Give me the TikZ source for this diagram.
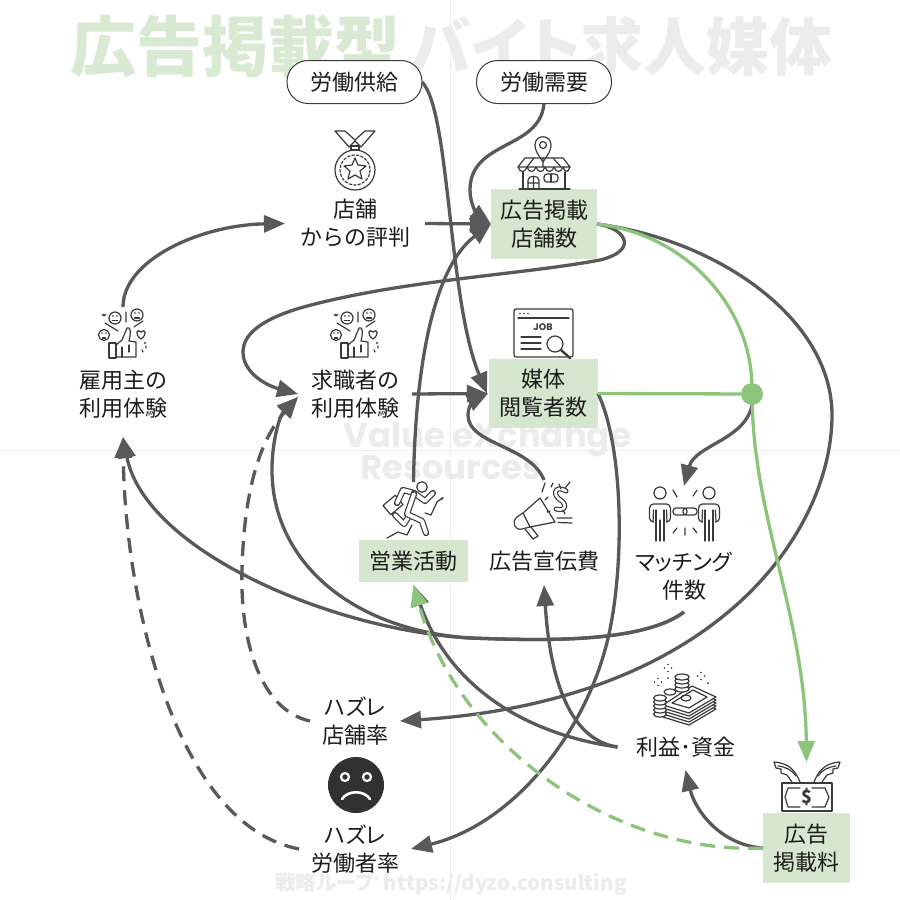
\documentclass[tikz,border=0pt]{standalone}
\usepackage{fontspec}
\setmainfont{Noto Sans CJK JP}
\newfontfamily\paltfont[RawFeature=+palt]{Noto Sans CJK JP}
\newfontfamily\latinbold[BoldFont=Poppins Bold]{Poppins}
\usetikzlibrary{arrows.meta,shapes.geometric}
\definecolor{linegray}{HTML}{595959}
\definecolor{icongray}{HTML}{3A3A3A}
\definecolor{boxgreen}{HTML}{D5E8CF}
\definecolor{linegreen}{HTML}{8DC47B}
\definecolor{titlegreen}{HTML}{D9EAD3}
\definecolor{titlegray}{HTML}{ECECEC}
\definecolor{markgray}{HTML}{EEEEEE}
\definecolor{textdark}{HTML}{1C1C1C}
\tikzset{
  x=1pt,y=-1pt,
  lab/.style={font=\fontsize{22}{28}\selectfont,text=textdark,align=center,inner sep=0pt,outer sep=0pt},
  greenbox/.style={lab,fill=boxgreen},
  pill/.style={lab,draw=icongray,line width=1pt,fill=white,rounded corners=21pt,minimum width=135pt,minimum height=43pt},
  tipshape/.style={-{Triangle[length=21pt,width=17pt]}},
  conn/.style={draw=linegray,line width=3.3pt,tipshape},
  dashconn/.style={conn,dash pattern=on 15pt off 9pt},
  gconn/.style={draw=linegreen,line width=3.3pt},
  icon/.style={draw=icongray,line width=1.2pt,line join=round,line cap=round},
  limb/.style={draw=icongray,line width=1.2pt,double=white,double distance=3.8pt,line cap=round,line join=round},
  thumbs/.pic={
    \begin{scope}[icon]
      \draw (115,318) circle (6);
      \draw (137,315) circle (6);
      \draw (104,335) circle (5.5);
      \fill[icongray] (113,316) circle (.8) (117,316) circle (.8) (135,313) circle (.8) (139,313) circle (.8) (102,333) circle (.8) (106,333) circle (.8);
      \draw (112.5,320.5) -- (117.5,320.5) (134.5,318) -- (139.5,318) (102.5,338) -- (105.5,338);
      \draw (126,312) -- (126,322) (105,323) -- (118,331) (134,327) -- (143,321);
      \draw (109,343) rectangle (116,358);
      \draw (116,345) -- (122,340) -- (127,328) .. controls (131,326) and (131,333) .. (129,341) -- (136,342) -- (136,357) -- (116,357);
      \draw (122,357) -- (122,347) (129,345) -- (129,352);
      \draw (141,332) .. controls (137,328) and (134,334) .. (141,339) .. controls (148,334) and (145,328) .. (141,332);
      \draw (104,314) -- (104,316) (102,315) -- (106,315) (146,346) -- (146,348) (142,350) -- (143,352);
      \fill[icongray] (145,343) circle (1.2);
    \end{scope}
  },
  sparkle/.pic={
    \fill[icongray] (0,-3.5) circle (.8) (0,3.5) circle (.8) (-3.5,0) circle (.8) (3.5,0) circle (.8);
  },
}
\begin{document}
\begin{tikzpicture}
\useasboundingbox (0,0) rectangle (900,900);
\fill[white] (0,0) rectangle (900,900);
% background grid and watermarks
\draw[markgray,line width=1pt] (450,0) -- (450,900) (0,450) -- (900,450);
\node[anchor=base west,inner sep=0pt,font=\fontsize{66}{70}\selectfont\bfseries,text=titlegreen] (titleA) at (70,71) {広告掲載型};
\node[anchor=base west,inner sep=0pt,font=\paltfont\fontsize{63}{70}\selectfont\bfseries,text=titlegray] (titleB) at (409,70) {バイト求人媒体};
\node[anchor=base west,inner sep=0pt,font=\latinbold\fontsize{34}{38}\selectfont\bfseries,text=titlegray] (markA) at (343,447) {Value eXchange};
\node[anchor=base west,inner sep=0pt,font=\latinbold\fontsize{34}{38}\selectfont\bfseries,text=titlegray] (markB) at (360,479) {Resources};
\node[anchor=base,inner sep=0pt,font=\paltfont\fontsize{20.5}{24}\selectfont\bfseries,text=titlegray] (markC) at (451,890) {戦略ループ{\fontsize{10}{10}\selectfont\raisebox{6pt}{®}} https://dyzo.consulting};

% nodes
\node[pill] (supply) at (354.5,82) {労働供給};
\node[pill] (demand) at (544,82) {労働需要};
\node[lab,minimum width=140pt,minimum height=60pt] (rep) at (355,223.5) {店舗\\からの評判};
\node[greenbox,minimum width=106pt,minimum height=70pt] (stores) at (544,224) {広告掲載\\店舗数};
\node[greenbox,minimum width=109pt,minimum height=69pt] (media) at (543.5,393.5) {媒体\\閲覧者数};
\node[lab,minimum width=90pt,minimum height=86pt] (emp) at (123,394) {雇用主の\\利用体験};
\node[lab,minimum width=114pt,minimum height=60pt] (seek) at (355,394) {求職者の\\利用体験};
\node[greenbox,minimum width=109pt,minimum height=42pt] (sales) at (413.5,561) {営業活動};
\node[lab,minimum width=109pt,minimum height=42pt] (adv) at (544,561) {広告宣伝費};
\node[lab,minimum width=100pt,minimum height=62pt] (match) at (684,576) {{\paltfont マッチング}\\件数};
\node[lab,minimum width=136pt,minimum height=46pt] (profit) at (685.5,747) {利益･資金};
\node[lab,minimum width=90pt,minimum height=60pt] (shop) at (355,721) {{\paltfont ハズレ}\\店舗率};
\node[lab,minimum width=112pt,minimum height=60pt] (labor) at (355,849) {{\paltfont ハズレ}\\労働者率};
\node[greenbox,minimum width=87pt,minimum height=70pt] (fee) at (806.5,848) {広告\\掲載料};
\node[circle,fill=linegreen,inner sep=0pt,minimum size=22pt] (hub) at (752,394) {};

% gray connectors
\draw[conn] (supply.east) .. controls (450,110) and (448,300) .. ([xshift=-2pt]media.west);
\draw[conn] (demand.south) .. controls (540,150) and (470,140) .. (470,190) .. controls (470,205) and (478,215) .. (stores.west);
\draw[conn] (rep.east) -- (stores.west);
\draw[conn] ([yshift=58pt]sales.north) .. controls (415,380) and (430,270) .. (stores.west);
\draw[conn] ([yshift=44pt]emp.north) .. controls (123,260) and (200,225) .. (rep.west);
\draw[conn] (stores.east) .. controls (625,228) and (640,250) .. (600,260) .. controls (520,275) and (400,280) .. (300,308) .. controls (260,320) and (243,335) .. (243,352) .. controls (243,372) and (265,385) .. (seek.west);
\draw[conn] (seek.east) -- ([xshift=-1pt]media.west);
\draw[conn] ([yshift=60pt]adv.north) .. controls (530,445) and (468,445) .. (468,415) .. controls (468,405) and (475,400) .. ([xshift=-1pt]media.west);
\draw[conn] (hub.south) .. controls (745,440) and (695,445) .. ([yshift=59pt]match.north);
\draw[conn] (media.east) .. controls (625,450) and (625,580) .. (605,650) .. controls (580,740) and (510,825) .. (labor.east);
\draw[conn] (stores.east) .. controls (720,240) and (832,320) .. (832,415) .. controls (832,530) and (720,700) .. (shop.east);
\draw[conn] ([yshift=-5pt]match.south) .. controls (640,645) and (530,640) .. (470,638) .. controls (330,630) and (145,550) .. (emp.south);
\draw[conn] ([yshift=-5pt]match.south) .. controls (640,645) and (530,640) .. (470,638) .. controls (350,630) and (272,560) .. (272,470) .. controls (272,440) and (280,415) .. ([yshift=-3pt]seek.west);
\draw[conn] (profit.west) .. controls (530,735) and (450,690) .. ([yshift=-3pt]sales.south);
\draw[conn] (profit.west) .. controls (570,740) and (550,680) .. ([yshift=-3pt]adv.south);
\draw[conn] (fee.west) .. controls (720,845) and (695,810) .. (profit.south);
\draw[dashconn] (shop.west) .. controls (260,710) and (240,640) .. (242,570) .. controls (244,490) and (260,440) .. ([yshift=-3pt]seek.west);
\draw[dashconn] (labor.west) .. controls (175,825) and (125,600) .. (emp.south);

% green connectors
\draw[gconn] (media.east) -- (hub);
\draw[gconn] (stores.east) .. controls (690,235) and (750,310) .. (hub);
\draw[gconn,tipshape] (hub) .. controls (755,520) and (805,620) .. ([yshift=51pt]fee.north);
\draw[gconn,dash pattern=on 15pt off 9pt,tipshape] (fee.west) .. controls (620,855) and (460,750) .. ([yshift=-3pt]sales.south);

% icons
\begin{scope}[icon]
  % medal
  \draw (335,131) -- (345,131) -- (355,140) -- (365,131) -- (375,131) -- (361,147) -- (355,141) -- (349,147) -- cycle;
  \draw (351,146) rectangle (359,150);
  \draw (355,170) circle (20);
  \draw[dash pattern=on 2.5pt off 2pt] (355,170) circle (15);
  \draw (355,158) -- (358,165) -- (366,166) -- (360,171) -- (362,179) -- (355,175) -- (348,179) -- (350,171) -- (344,166) -- (352,165) -- cycle;
  % store
  \draw (543,162) .. controls (537,153) and (535,150) .. (535,145) .. controls (535,134) and (551,134) .. (551,145) .. controls (551,150) and (549,153) .. (543,162) -- cycle;
  \draw (543,145) circle (3.5);
  \draw (525,158) -- (563,158) -- (570,167) -- (518,167) -- cycle;
  \draw (518,167) .. controls (520,173) and (525,173) .. (527,167) .. controls (529,173) and (534,173) .. (536,167) .. controls (538,173) and (543,173) .. (545,167) .. controls (547,173) and (552,173) .. (554,167) .. controls (556,173) and (561,173) .. (563,167) .. controls (565,173) and (568,173) .. (570,167);
  \draw (534,158) -- (527,167) (543,158) -- (543,167) (553,158) -- (561,167);
  \draw (523,172) -- (523,189) (565,172) -- (565,189) (519,189) -- (570,189);
  \draw (528,189) -- (528,180) .. controls (528,175) and (539,175) .. (539,180) -- (539,189) (528,183) -- (539,183) (533.5,177) -- (533.5,189);
  \draw[rounded corners=3pt] (544,174) rectangle (558,182);
  \draw (551,174) -- (551,182);
  % job window
  \draw[rounded corners=2pt] (514,309) rectangle (573,357);
  \draw (518,318) -- (569,318);
  \fill[icongray] (520,313.5) circle (.9) (524,313.5) circle (.9) (528,313.5) circle (.9);
  \draw (521,337) -- (541,337) (521,343) -- (541,343) (521,349) -- (541,349);
  \draw[fill=white] (555,344) circle (8);
  \draw[line width=2.4pt] (561,350) -- (570,358);
  % runner
  \draw (422,487) circle (5.3);
  \draw[rotate around={40:(393,505)},fill=white] (385,499) rectangle (401,511);
  \draw[limb] (409,516) -- (404,524) -- (395,515);
  \draw[limb] (414,493) -- (403,490) -- (397,503);
  \draw[limb] (414,493) -- (425,501) -- (433,493);
  \draw[limb] (414,494) -- (407,514) -- (422,521) -- (426,533);
  \draw (387,538) -- (398,532) -- (407,535) -- (412,525);
  \draw[-{Stealth[length=4pt]}] (425,513) -- (431,515) -- (437,502) -- (444,497);
  % megaphone
  \draw (540,498) -- (555,522) -- (530,527) -- (523,513) -- cycle;
  \draw (523,513) -- (517,517) .. controls (511,522) and (515,531) .. (522,529) -- (530,527);
  \draw (525,529) -- (533,539) -- (538,536) -- (531,527);
  \draw (545,483) -- (542,492) (553,483) -- (551,487) (570,482) -- (565,488) (548,497) -- (545,500) (550,511) -- (547,512) (557,518) -- (572,518) (558,522.5) -- (572,523);
  \draw[limb,double distance=2.6pt] (566,491) .. controls (556,485) and (552,493) .. (559,499) .. controls (567,503) and (567,512) .. (556,509);
  \draw (559,484) -- (561,489) (563,510) -- (565,514);
  % people
  \foreach \px in {660,709}{
    \draw (\px,493) circle (6);
    \draw[rounded corners=4pt] (\px-7,522) -- (\px-10.5,522) -- (\px-10.5,504) -- (\px+10.5,504) -- (\px+10.5,522) -- (\px+7,522);
    \draw (\px-7,522) -- (\px-6.5,510) (\px+7,522) -- (\px+6.5,510);
    \draw (\px-4,510) -- (\px-4,541) (\px,520) -- (\px,541) (\px+4,510) -- (\px+4,541);
  }
  \draw[rounded corners=3pt] (673,508) rectangle (687,515) (683,508) rectangle (697,515);
  \draw (685,528) -- (685,535) (673,490) -- (677,497) (697,490) -- (693,496) (673,533) -- (677,528) (697,533) -- (693,528);
  % money
  \foreach \sy in {12,9,6,3,0}{
    \draw[fill=white] (663,705+\sy) -- (692,686+\sy) -- (716,697+\sy) -- (689,713+\sy) -- cycle;
  }
  \draw (672,703) -- (693,690) -- (707,697) -- (689,708) -- cycle;
  \draw (686,698) ellipse (5 and 3);
  \foreach \cy in {689,685,681}{ \draw[fill=white] (682,\cy) ellipse (7 and 3); }
  \draw[fill=white] (682,677) ellipse (7 and 3);
  \draw[fill=white] (670,692) ellipse (6 and 3);
  \foreach \cy in {714,710,706,702}{ \draw[fill=white] (660,\cy) ellipse (6.5 and 3); }
  \draw[fill=white] (660,698) ellipse (6.5 and 3);
  % winged money
  \draw (782,783) rectangle (832,811);
  \draw (800,788) -- (788,788) -- (785,797) -- (788,807) -- (800,807) (812,788) -- (825,788) -- (829,797) -- (825,807) -- (812,807);
  \draw (800,782) .. controls (796,772) and (790,763) .. (774,762) -- (776,768) -- (781,769) -- (781,773) -- (787,775) -- (792,782);
  \draw (814,782) .. controls (818,772) and (824,763) .. (840,762) -- (838,768) -- (833,769) -- (833,773) -- (827,775) -- (822,782);
  \draw (778,766) .. controls (786,767) and (792,770) .. (796,776) (836,766) .. controls (828,767) and (822,770) .. (818,776);
\end{scope}
\pic at (668,668) {sparkle};
\pic at (658,682) {sparkle};
\pic at (701,676) {sparkle};
\fill[icongray] (708,683) circle (1) (668,678) circle (1);
\node[inner sep=0pt,font=\fontsize{18}{20}\selectfont\bfseries,text=icongray] (dollar) at (807,797) {\$};
\node[inner sep=0pt,font=\latinbold\fontsize{9.5}{11}\selectfont\bfseries,text=icongray] (jobtxt) at (543,327) {JOB};
\pic at (0,0) {thumbs};
\pic at (232,0) {thumbs};
% sad face
\fill[icongray!85!black] (356,785) circle (28);
\draw[white,line width=2.2pt] (345,777) circle (4) (367,777) circle (4);
\draw[white,line width=2.6pt,line cap=round] (342,799) .. controls (348,790) and (364,790) .. (370,799);
\end{tikzpicture}
\end{document}
